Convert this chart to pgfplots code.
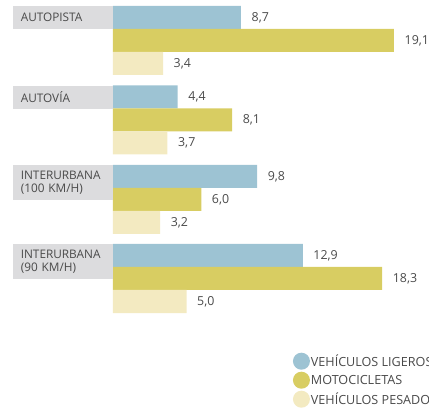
\documentclass[border=0pt]{standalone}
\usepackage{fontspec}
\setmainfont{Open Sans}
\usepackage{pgfplots}
\pgfplotsset{compat=1.18}
\definecolor{ligeros}{HTML}{9DC3D3}
\definecolor{motos}{HTML}{D8CD62}
\definecolor{pesados}{HTML}{F3EAC1}
\definecolor{catbg}{HTML}{DCDCDE}
\definecolor{txt}{HTML}{4A4A4A}
\pgfplotsset{dot legend/.style={legend image code/.code={\fill[##1, draw=none] (8.5pt,0pt) circle (8.5pt);}}}
\begin{document}
\begin{tikzpicture}[x=1pt,y=1pt]
\useasboundingbox (0,0) rectangle (429,409);
\begin{axis}[
  at={(113pt,409pt)}, anchor=origin,
  x=14.71pt, y=1pt, y dir=reverse,
  xmin=0, xmax=21.48, ymin=0, ymax=409,
  hide axis, clip=false,
  xbar, bar width=23pt, bar shift=0pt,
  point meta=x,
  nodes near coords={\pgfmathprintnumber[fixed,zerofill,precision=1,use comma,assume math mode=true]{\pgfplotspointmeta}},
  every node near coord/.append style={anchor=west, inner sep=0pt, xshift=10.5pt, font=\fontsize{12.4}{14}\selectfont, text=txt},
  legend style={draw=none, fill=none, at={(axis cs:12.22,352.5)}, anchor=north west,
    inner sep=0pt, row sep=2pt, font=\fontsize{12.6}{14}\selectfont, text=txt,
    nodes={inner sep=0pt}, /tikz/every odd column/.append style={column sep=1pt}},
  legend cell align=left,
]
\addplot[fill=ligeros, draw=none, dot legend] coordinates {(8.7,17.5) (4.4,97) (9.8,176.5) (12.9,255.5)};
\addplot[fill=motos, draw=none, dot legend] coordinates {(19.1,40.5) (8.1,120) (6.0,199.5) (18.3,278.5)};
\addplot[fill=pesados, draw=none, dot legend] coordinates {(3.4,63.5) (3.7,143) (3.2,222.5) (5.0,301.5)};
\legend{VEHÍCULOS LIGEROS, MOTOCICLETAS, VEHÍCULOS PESADOS}
% category labels on grey tabs to the left of each group
\begin{scope}[every node/.style={fill=catbg, anchor=north east, text width=84pt, inner xsep=8pt, inner ysep=0pt, align=left, font=\fontsize{11.8}{13}\selectfont, text=txt}]
\node[minimum height=23pt] at (axis cs:0,6) {AUTOPISTA};
\node[minimum height=23pt] at (axis cs:0,85.5) {AUTOVÍA};
\node[minimum height=35pt] at (axis cs:0,165) {INTERURBANA\\(100 KM/H)};
\node[minimum height=35pt] at (axis cs:0,244) {INTERURBANA\\(90 KM/H)};
\end{scope}
\end{axis}
\end{tikzpicture}
\end{document}
